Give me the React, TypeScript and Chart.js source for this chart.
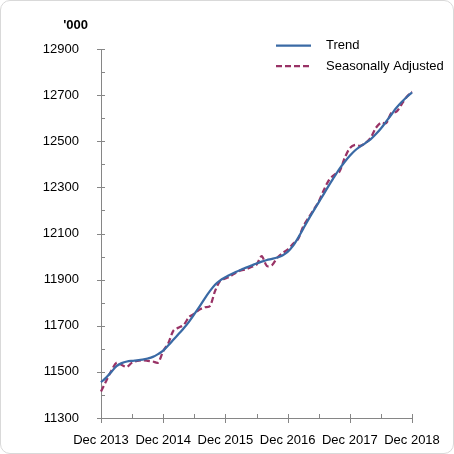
import React, { useEffect, useRef } from 'react';
import { Chart, registerables } from 'chart.js';
Chart.register(...registerables);

const years = [2013, 2014, 2015, 2016, 2017, 2018];
const monthNames = ['Jan', 'Feb', 'Mar', 'Apr', 'May', 'Jun', 'Jul', 'Aug', 'Sep', 'Oct', 'Nov', 'Dec'];

// Dec 2013 .. Dec 2018, monthly
const months: string[] = ['Dec 2013'];
years.slice(1).forEach((y) => monthNames.forEach((m) => months.push(m + ' ' + y)));

const trend = [
  11455, 11475, 11500, 11525, 11538, 11545, 11548, 11550, 11553, 11558, 11565, 11577,
  11592, 11615, 11640, 11665, 11690, 11718, 11750, 11783, 11818, 11850, 11878, 11897,
  11910, 11922, 11933, 11943, 11952, 11961, 11970, 11978, 11985, 11990, 11996, 12005,
  12020, 12045, 12080, 12120, 12160, 12198, 12235, 12272, 12310, 12345, 12380, 12410,
  12437, 12460, 12477, 12492, 12508, 12530, 12555, 12585, 12615, 12645, 12670, 12692,
  12712,
];

const seasonallyAdjusted = [
  11415, 11460, 11505, 11540, 11530, 11522, 11540, 11548, 11550, 11548, 11545, 11540,
  11590, 11625, 11680, 11692, 11705, 11738, 11752, 11770, 11780, 11785, 11850, 11895,
  11905, 11915, 11930, 11940, 11945, 11955, 11965, 12002, 11959, 11963, 11995, 12015,
  12030, 12054, 12075, 12130, 12167, 12202, 12238, 12289, 12332, 12354, 12368, 12427,
  12470, 12484, 12480, 12492, 12514, 12557, 12580, 12578, 12622, 12628, 12660, 12693,
  12715,
];

const yMin = 11300;
const yMax = 12900;
const axisColor = '#868686';
const font = { family: '"Liberation Sans", Arial, sans-serif', size: 13 };

// tick marks like the spreadsheet: major ones cross the axis, minor ones sit inside
const axisTicks = {
  id: 'axisTicks',
  afterDraw(chart: any) {
    const { ctx, chartArea, scales } = chart;
    ctx.save();
    ctx.strokeStyle = axisColor;
    ctx.lineWidth = 1;
    ctx.beginPath();
    for (let v = yMin; v <= yMax; v += 100) {
      const y = Math.round(scales.y.getPixelForValue(v)) + 0.5;
      const major = (v - yMin) % 200 === 0;
      ctx.moveTo(chartArea.left - (major ? 4 : 0), y);
      ctx.lineTo(chartArea.left + 4, y);
    }
    for (let i = 0; i < months.length; i += 6) {
      const x = Math.round(scales.x.getPixelForValue(i)) + 0.5;
      const major = i % 12 === 0;
      ctx.moveTo(x, chartArea.bottom - 4);
      ctx.lineTo(x, chartArea.bottom + (major ? 5 : 0));
    }
    ctx.stroke();

    ctx.fillStyle = '#000';
    ctx.font = 'bold 13px "Liberation Sans", Arial, sans-serif';
    ctx.textAlign = 'right';
    ctx.textBaseline = 'middle';
    ctx.fillText("'000", chartArea.left - 13, chartArea.top - 24);
    ctx.restore();
  },
};

const insideLegend = {
  id: 'insideLegend',
  afterDraw(chart: any) {
    const { ctx } = chart;
    ctx.save();
    ctx.font = '13px "Liberation Sans", Arial, sans-serif';
    ctx.textBaseline = 'middle';
    ctx.textAlign = 'left';
    chart.data.datasets.forEach((ds: any, i: number) => {
      const y = 45.5 + i * 20.5;
      ctx.strokeStyle = ds.borderColor;
      ctx.lineWidth = ds.borderWidth;
      ctx.setLineDash(ds.borderDash || []);
      ctx.beginPath();
      ctx.moveTo(276, y);
      ctx.lineTo(311, y);
      ctx.stroke();
      ctx.setLineDash([]);
      ctx.fillStyle = '#000';
      ctx.fillText(ds.label, 326, y);
    });
    ctx.restore();
  },
};

const App: React.FC = () => {
  const chartRef = useRef<HTMLCanvasElement>(null);
  const chartInstance = useRef<Chart | null>(null);

  useEffect(() => {
    if (!chartRef.current) return;
    const chartContext = chartRef.current.getContext('2d');
    if (!chartContext) return;
    if (chartInstance.current) chartInstance.current.destroy();

    chartInstance.current = new Chart(chartContext, {
      type: 'line',
      data: {
        labels: months,
        datasets: [
          {
            label: 'Trend',
            data: trend,
            borderColor: '#3A6AA5',
            borderWidth: 2.25,
            pointRadius: 0,
            cubicInterpolationMode: 'monotone',
          },
          {
            label: 'Seasonally Adjusted',
            data: seasonallyAdjusted,
            borderColor: '#993366',
            borderWidth: 2.25,
            borderDash: [6, 3],
            pointRadius: 0,
            tension: 0.3,
          },
        ],
      },
      options: {
        responsive: false,
        animation: false,
        layout: { padding: { left: 0, right: 42, top: 49, bottom: 0 } },
        plugins: {
          legend: { display: false },
          tooltip: { enabled: false },
        },
        scales: {
          x: {
            type: 'category',
            offset: false,
            grid: { display: false },
            border: { display: true, color: axisColor },
            afterFit: (scale: any) => {
              scale.height = 36;
            },
            ticks: {
              autoSkip: false,
              maxRotation: 0,
              padding: 7,
              color: '#000',
              font,
              callback: (_v: any, i: number) => (i % 12 === 0 ? months[i] : ''),
            },
          },
          y: {
            min: yMin,
            max: yMax,
            grid: { display: false },
            border: { display: true, color: axisColor },
            afterFit: (scale: any) => {
              scale.width = 101;
            },
            ticks: {
              stepSize: 100,
              padding: 14,
              color: '#000',
              font,
              callback: (v: any) => ((v - yMin) % 200 === 0 ? String(v) : ''),
            },
          },
        },
      },
      plugins: [axisTicks, insideLegend],
    });

    return () => {
      if (chartInstance.current) {
        chartInstance.current.destroy();
        chartInstance.current = null;
      }
    };
  }, []);

  return (
    <div style={{ position: 'fixed', left: 0, top: 0, width: 454, height: 454, background: '#fff' }}>
      <div
        style={{
          position: 'absolute',
          left: 0,
          top: 0,
          width: 454,
          height: 454,
          boxSizing: 'border-box',
          border: '1px solid #d9d9d9',
          borderRadius: 10,
        }}
      />
      <canvas ref={chartRef} width={454} height={454} style={{ position: 'absolute', left: 0, top: 0 }} />
    </div>
  );
};

export default App;
